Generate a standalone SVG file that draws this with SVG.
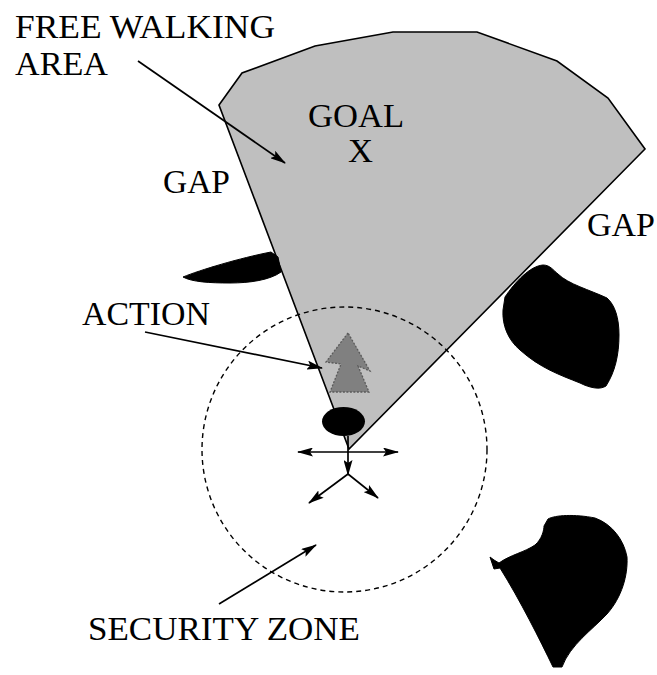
<svg xmlns="http://www.w3.org/2000/svg" width="657" height="675" viewBox="0 0 657 675">
<style>
text{font-family:"Liberation Serif","Times New Roman",serif;font-size:33px;fill:#000}
.conn{stroke:#000;stroke-width:1.7;fill:none;marker-end:url(#ah)}
.obst{fill:#000;stroke:#000;stroke-width:1}
</style>
<defs>
<marker id="ah" viewBox="0 0 16 9" refX="15" refY="4.5" markerWidth="16" markerHeight="9" markerUnits="userSpaceOnUse" orient="auto-start-reverse">
<path d="M0,0 L16,4.5 L0,9 L3,4.5 Z" fill="#000"/>
</marker>
</defs>
<g id="free-area">
<polygon points="219,105 242,73 315,46 393,32 477,32 557,61 608,98 645,149 349,449" fill="#bfbfbf" stroke="#000" stroke-width="1.6" stroke-linejoin="miter"/>
</g>
<g id="security-zone">
<circle cx="344.5" cy="449.5" r="142.5" fill="none" stroke="#000" stroke-width="1.4" stroke-dasharray="5,4"/>
</g>
<g id="obstacles">
<path class="obst" d="M183,277 C200,270 240,258 271,252 L278,257 L281,272 C270,280 250,283 230,283 C210,283 192,282 183,277 Z"/>
<path class="obst" d="M505,297 C515,282 530,266 543,265 C550,265 553,270 558,274 C568,284 590,290 607,298 C615,305 619,318 619,335 C619,355 615,372 606,386 C600,390 590,388 580,383 C560,375 540,368 520,350 C508,340 502,325 503,310 Z"/>
<path class="obst" d="M548,519 C555,515 575,514 595,518 C612,524 624,540 627,557 C628,575 622,597 607,614 C592,630 570,645 562,667 L553,667 C540,640 520,600 500,568 L494,569 L490,557 L494,560 L499,563 C510,555 525,552 535,545 C542,539 544,530 544,526 Z"/>
</g>
<g id="action">
<path d="M348,333 L326,362 L341,364 L330,392 L369,392 L358,366 L370,371 Z" fill="#808080" stroke="#5a5a5a" stroke-width="1.3" stroke-dasharray="2,1.5"/>
</g>
<g id="robot">
<ellipse cx="343.5" cy="421.5" rx="21.5" ry="14.5" fill="#000"/>
</g>
<g id="connectors">
<line class="conn" x1="138" y1="61" x2="285" y2="163"/>
<line class="conn" x1="145" y1="332" x2="322" y2="368"/>
<line class="conn" x1="219" y1="604" x2="316" y2="545"/>
<line class="conn" x1="349" y1="452" x2="298" y2="452"/>
<line class="conn" x1="349" y1="452" x2="398" y2="452"/>
<line class="conn" x1="348" y1="436" x2="348" y2="475"/>
<line class="conn" x1="348" y1="474" x2="309" y2="503"/>
<line class="conn" x1="348" y1="474" x2="378" y2="498"/>
</g>
<g id="labels">
<text x="15" y="38" textLength="260" lengthAdjust="spacingAndGlyphs">FREE WALKING</text>
<text x="15" y="75" textLength="93" lengthAdjust="spacingAndGlyphs">AREA</text>
<text x="308" y="127" textLength="96" lengthAdjust="spacingAndGlyphs">GOAL</text>
<text x="348" y="162" textLength="25" lengthAdjust="spacingAndGlyphs">X</text>
<text x="163" y="193" textLength="67" lengthAdjust="spacingAndGlyphs">GAP</text>
<text x="587" y="236" textLength="68" lengthAdjust="spacingAndGlyphs">GAP</text>
<text x="82" y="325" textLength="128" lengthAdjust="spacingAndGlyphs">ACTION</text>
<text x="88" y="640" textLength="272" lengthAdjust="spacingAndGlyphs">SECURITY ZONE</text>
</g>
</svg>
